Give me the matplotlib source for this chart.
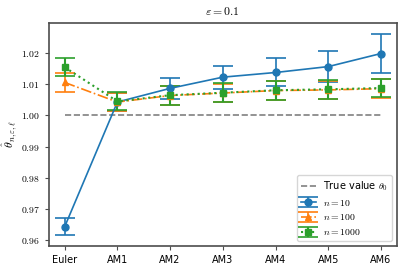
import matplotlib
matplotlib.use("Agg")
import matplotlib.pyplot as plt
from matplotlib.ticker import FormatStrFormatter
import numpy as np

plt.rcParams['mathtext.fontset'] = 'cm'
plt.rcParams['font.size'] = 7

methods = ['Euler', 'AM1', 'AM2', 'AM3', 'AM4', 'AM5', 'AM6']
true_value = 1.0

# n = 10
mean_10 = [0.9642, 1.0043, 1.0087, 1.0123, 1.0138, 1.0157, 1.0199]
err_10 = [0.0027, 0.0029, 0.0034, 0.0037, 0.0045, 0.0051, 0.0062]
# n = 100
mean_100 = [1.0106, 1.0043, 1.0064, 1.0072, 1.0080, 1.0082, 1.0086]
err_100 = [0.0030, 0.0029, 0.0030, 0.0030, 0.0030, 0.0030, 0.0031]
# n = 1000
mean_1000 = [1.0155, 1.0045, 1.0065, 1.0073, 1.0081, 1.0084, 1.0088]
err_1000 = [0.0029, 0.0029, 0.0030, 0.0030, 0.0030, 0.0030, 0.0030]

x = np.arange(len(methods))

fig = plt.figure(figsize=(4.07, 2.71), dpi=100)
ax = fig.add_axes([0.12, 0.092, 0.855, 0.823])

ax.plot(x, [true_value] * len(x), '--', color='gray', lw=1.2, label=r'True value $\theta_0$')
ax.errorbar(x, mean_10, yerr=err_10, fmt='o-', color='#1f77b4', ms=5, lw=1.2,
            capsize=7, capthick=1.2, label=r'$n = 10$')
ax.errorbar(x, mean_100, yerr=err_100, fmt='^-.', color='#ff7f0e', ms=5, lw=1.2,
            capsize=7, capthick=1.2, label=r'$n = 100$')
ax.errorbar(x, mean_1000, yerr=err_1000, fmt='s:', color='#2ca02c', ms=5, lw=1.5,
            capsize=7, capthick=1.2, label=r'$n = 1000$')

ax.set_xticks(x)
ax.set_xticklabels(methods)
ax.set_xlim(-0.3, 6.3)
ax.set_ylim(0.958, 1.0297)
ax.set_yticks([0.96, 0.97, 0.98, 0.99, 1.00, 1.01, 1.02])
ax.yaxis.set_major_formatter(FormatStrFormatter(r'$%.2f$'))
ax.set_ylabel(r'$\hat{\theta}_{n,\varepsilon,\ell}$', fontsize=8.5)
ax.yaxis.set_label_coords(-0.085, 0.5)
ax.set_title(r'$\varepsilon = 0.1$', fontsize=8.5)
for s in ax.spines.values():
    s.set_color('0.3')
    s.set_linewidth(1.2)
ax.tick_params(color='0.3', length=3)
ax.legend(loc='lower right', fontsize=7, handlelength=1.5)

fig.savefig('out.png', dpi=100)
